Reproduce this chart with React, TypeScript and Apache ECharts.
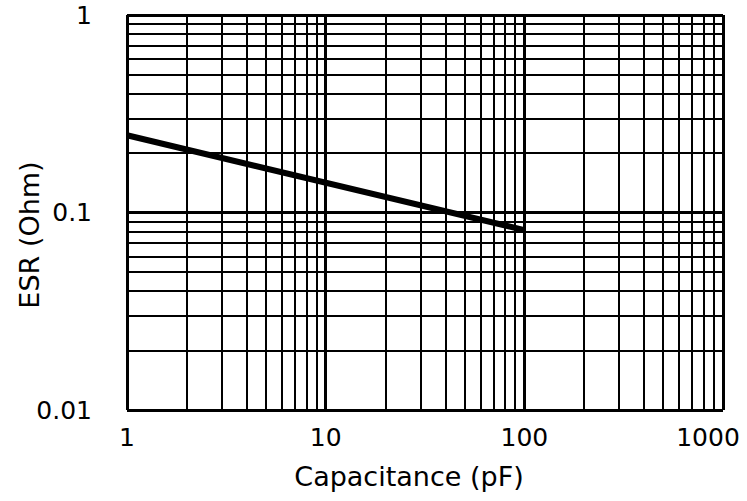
import React, { useEffect, useRef } from "react";
import * as echarts from "echarts";

const capacitance = [1, 100];
const esr = [0.246, 0.0815];
const xMinorGrid = [2, 3, 4, 5, 6, 7, 8, 9, 20, 30, 40, 50, 60, 70, 80, 90, 200, 300, 400, 500, 600, 700, 800, 900];
const yMinorGrid = [0.02, 0.03, 0.04, 0.05, 0.06, 0.07, 0.08, 0.09, 0.2, 0.3, 0.4, 0.5, 0.6, 0.7, 0.8, 0.9];
const xTickLabels: Record<number, string> = { 1: "1", 10: "10", 100: "100", 1000: "1000" };
const yTickLabels: Record<number, string> = { 0.01: "0.01", 0.1: "0.1", 1: "1" };
const xTitle = "Capacitance (pF)";
const yTitle = "ESR (Ohm)";

const FONT = "DejaVu Sans";

export default function App() {
  const ref = useRef<HTMLDivElement>(null);
  useEffect(() => {
    if (!ref.current) return;
    const chart = echarts.init(ref.current, undefined, { renderer: "svg" });
    const gridLines = [
      ...xMinorGrid.map((v) => ({ xAxis: v })),
      ...yMinorGrid.map((v) => ({ yAxis: v })),
    ];
    const findLabel = (table: Record<number, string>, v: number) => {
      for (const k of Object.keys(table)) {
        if (Math.abs(Number(k) - v) / Number(k) < 1e-6) return table[Number(k)];
      }
      return "";
    };
    chart.setOption({
      animation: false,
      backgroundColor: "#ffffff",
      grid: { left: 127, right: 24, top: 15, bottom: 91, containLabel: false, outerBoundsMode: "none" },
      xAxis: {
        type: "log",
        logBase: 10,
        min: 1,
        max: 1000,
        axisLine: { show: false },
        axisTick: { show: false },
        axisLabel: {
          fontFamily: FONT,
          fontSize: 25,
          color: "#000",
          margin: 15,
          formatter: (v: number) => {
            const t = findLabel(xTickLabels, v);
            return v > 500 ? "{last|" + t + "}" : t;
          },
          rich: { last: { fontFamily: FONT, fontSize: 25, color: "#000", padding: [0, 30, 0, 0] } },
        },
        splitLine: { show: true, lineStyle: { color: "#000", width: 3 } },
      },
      yAxis: {
        type: "log",
        logBase: 10,
        min: 0.01,
        max: 1,
        axisLine: { show: false },
        axisTick: { show: false },
        axisLabel: {
          fontFamily: FONT,
          fontSize: 25,
          color: "#000",
          margin: 35,
          formatter: (v: number) => findLabel(yTickLabels, v),
        },
        splitLine: { show: true, lineStyle: { color: "#000", width: 3 } },
      },
      graphic: [
        {
          type: "text",
          x: 409,
          y: 476,
          style: {
            text: xTitle,
            font: `27px "${FONT}"`,
            fill: "#000",
            align: "center",
            verticalAlign: "middle",
          },
        },
        {
          type: "text",
          x: 29,
          y: 235,
          rotation: Math.PI / 2,
          style: {
            text: yTitle,
            font: `27px "${FONT}"`,
            fill: "#000",
            align: "center",
            verticalAlign: "middle",
          },
        },
      ],
      series: [
        {
          type: "line",
          data: capacitance.map((c, i) => [c, esr[i]]),
          showSymbol: false,
          lineStyle: { color: "#000", width: 6 },
          z: 5,
          markLine: {
            silent: true,
            symbol: ["none", "none"],
            label: { show: false },
            lineStyle: { color: "#000", width: 2, type: "solid" },
            emphasis: { disabled: true },
            data: gridLines,
            z: 1,
          },
        },
      ],
    });
    return () => chart.dispose();
  }, []);
  return (
    <div
      ref={ref}
      style={{ position: "fixed", left: 0, top: 0, width: 747, height: 501, background: "#fff" }}
    />
  );
}
